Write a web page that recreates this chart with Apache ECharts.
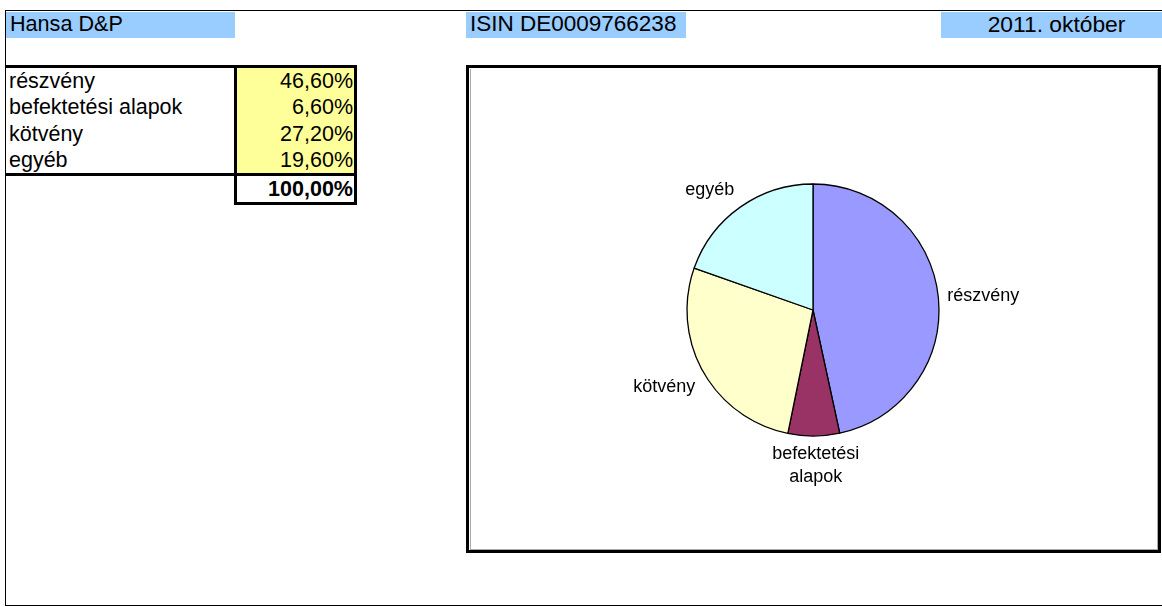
<!DOCTYPE html>
<html><head><meta charset="utf-8">
<script src="https://cdn.jsdelivr.net/npm/echarts@6/dist/echarts.min.js"></script>
<style>
html,body{margin:0;padding:0;width:1162px;height:607px;overflow:hidden;background:#fff;font-family:"Liberation Sans",Arial,sans-serif;color:#000;}
.a{position:absolute;box-sizing:border-box;}
.ln{position:absolute;background:#000;}
.txt{position:absolute;white-space:nowrap;line-height:26px;font-size:21.5px;}
</style></head><body>
<div id="sheet"></div>
<div id="chart" style="position:absolute;left:0;top:0;width:1162px;height:607px;"></div>
<script>
// ---- data ----
const categories = ['részvény', 'befektetési alapok', 'kötvény', 'egyéb'];
const values = [46.6, 6.6, 27.2, 19.6];
const valueLabels = ['46,60%', '6,60%', '27,20%', '19,60%'];
const totalLabel = '100,00%';
const headerTexts = ['Hansa D&P', 'ISIN DE0009766238', '2011. október'];
const pieLabels = ['részvény', 'befektetési\nalapok', 'kötvény', 'egyéb'];

// ---- sheet (HTML) ----
const sheet = document.getElementById('sheet');
function el(cls, style, text) {
  const d = document.createElement('div');
  d.className = cls;
  Object.assign(d.style, style);
  if (text !== undefined) d.textContent = text;
  sheet.appendChild(d);
  return d;
}
// outer border
el('a', {left:'5px', top:'10px', width:'1170px', height:'596px', border:'1.5px solid #000'});
// header boxes
const hdr = [
  {l:6, w:229, align:'left', fs:21.6},
  {l:466, w:220, align:'left', fs:22.5},
  {l:941, w:221, align:'center', fs:22.8}
];
hdr.forEach((h, i) => {
  const b = el('a', {left:h.l+'px', top:'12px', width:h.w+'px', height:'26px', background:'#99CCFF'});
  const t = document.createElement('div');
  t.textContent = headerTexts[i];
  Object.assign(t.style, {position:'absolute', top:'-1px', lineHeight:'26px', fontSize:h.fs+'px', whiteSpace:'nowrap'});
  if (h.align === 'center') { t.style.left = '10px'; t.style.right = '0'; t.style.textAlign = 'center'; }
  else { t.style.left = '4px'; }
  b.appendChild(t);
});
// table fill
el('a', {left:'237px', top:'68px', width:'117px', height:'105px', background:'#FFFF99'});
// table lines
el('ln', {left:'5px', top:'65px', width:'352px', height:'3px'});
el('ln', {left:'5px', top:'173px', width:'352px', height:'3px'});
el('ln', {left:'234px', top:'65px', width:'3px', height:'140px'});
el('ln', {left:'354px', top:'65px', width:'3px', height:'140px'});
el('ln', {left:'234px', top:'202px', width:'123px', height:'3px'});
// rows
categories.forEach((c, i) => {
  el('txt', {left:'9px', top:(68 + i*26.25)+'px'}, c);
  el('txt', {left:'237px', width:'116px', textAlign:'right', top:(68 + i*26.25)+'px'}, valueLabels[i]);
});
el('txt', {left:'237px', width:'116px', textAlign:'right', top:'176px', fontWeight:'bold'}, totalLabel);
// chart frame
el('a', {left:'466px', top:'65px', width:'695px', height:'488px', border:'3.5px solid #000'});
el('a', {left:'469.5px', top:'68.5px', width:'688px', height:'481px', borderLeft:'1px solid #aaa', borderRight:'1px solid #aaa', borderBottom:'1px solid #aaa'});

// ---- pie ----
const total = values.reduce((s, v) => s + v, 0);
// mid-angle direction of each slice (clockwise from 12 o'clock), used only to pick label alignment
const midAng = values.map((v, i) => {
  const before = values.slice(0, i).reduce((s, x) => s + x, 0);
  return ((before + v / 2) / total) * 2 * Math.PI;
});
const chart = echarts.init(document.getElementById('chart'), null, {renderer:'canvas'});
const colors = ['#9999FF', '#993366', '#FFFFCC', '#CCFFFF'];
chart.setOption({
  animation: false,
  backgroundColor: 'transparent',
  series: [{
    type: 'pie',
    center: [813, 310],
    radius: 126,
    startAngle: 90,
    clockwise: true,
    avoidLabelOverlap: false,
    data: categories.map((c, i) => ({name: c, value: values[i], itemStyle: {color: colors[i]}})),
    itemStyle: {borderColor: '#000', borderWidth: 1.3},
    label: {
      show: true, position: 'outside',
      formatter: p => pieLabels[p.dataIndex],
      color: '#000', fontSize: 18, lineHeight: 23,
      fontFamily: '"Liberation Sans", Arial, sans-serif',
      textBorderWidth: 0,
      distanceToLabelLine: 2
    },
    labelLine: {show: false, length: 7, length2: 0},
    labelLayout: function (p) {
      const a = midAng[p.dataIndex];
      const s = Math.sin(a), c = Math.cos(a);
      const out = {};
      if (Math.abs(s) < 0.2) out.align = 'center';
      if (Math.abs(c) > 0.3) out.verticalAlign = c > 0 ? 'bottom' : 'top';
      return out;
    },
    emphasis: {disabled: true}
  }]
});
</script>
</body></html>
